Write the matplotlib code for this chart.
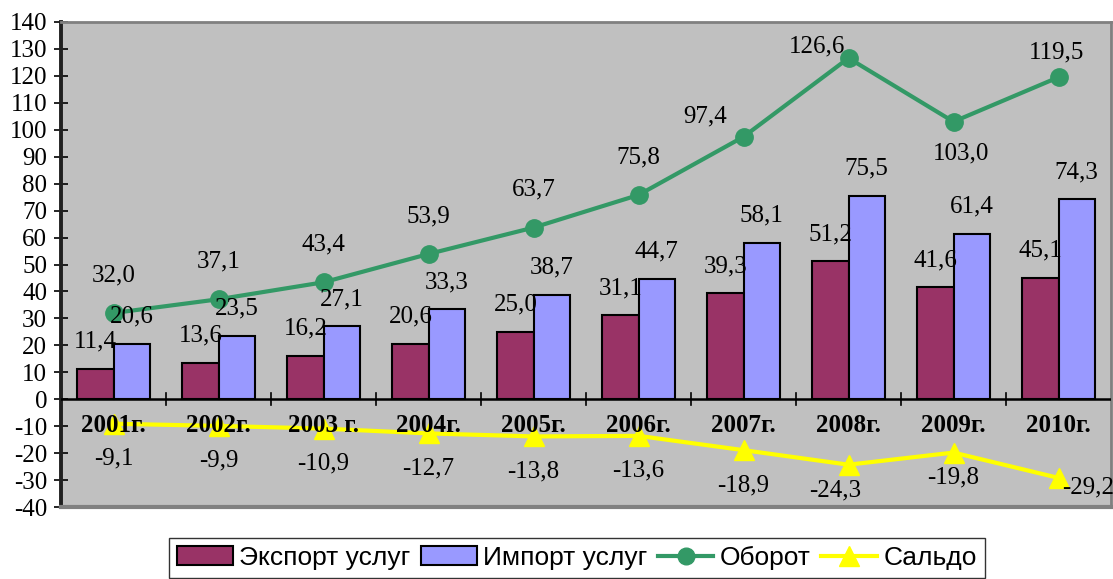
import numpy as np
import matplotlib.pyplot as plt
from matplotlib.patches import Patch
from matplotlib.lines import Line2D

plt.rcParams["axes.unicode_minus"] = False

years = ["2001г.", "2002г.", "2003 г.", "2004г.", "2005г.",
         "2006г.", "2007г.", "2008г.", "2009г.", "2010г."]
export = [11.4, 13.6, 16.2, 20.6, 25.0, 31.1, 39.3, 51.2, 41.6, 45.1]
imports = [20.6, 23.5, 27.1, 33.3, 38.7, 44.7, 58.1, 75.5, 61.4, 74.3]
turnover = [32.0, 37.1, 43.4, 53.9, 63.7, 75.8, 97.4, 126.6, 103.0, 119.5]
balance = [-9.1, -9.9, -10.9, -12.7, -13.8, -13.6, -18.9, -24.3, -19.8, -29.2]

c_export = "#993366"
c_import = "#9999ff"
c_turn = "#339966"
c_bal = "#ffff00"

serif = "Liberation Serif"
fs = 18


def fmt(v):
    return f"{v:.1f}".replace(".", ",")


fig = plt.figure(figsize=(11.13, 5.79), dpi=100)
ax = fig.add_axes([61 / 1113, 1 - 507 / 579, 1050 / 1113, 485 / 579])
ax.set_facecolor("#c0c0c0")

x = np.arange(len(years))
w = 0.343
ax.bar(x - w / 2, export, w, color=c_export, edgecolor="black", linewidth=1.5, zorder=2)
ax.bar(x + w / 2, imports, w, color=c_import, edgecolor="black", linewidth=1.5, zorder=2)
ax.plot(x, turnover, color=c_turn, lw=3, marker="o", ms=12.5, zorder=4)
ax.plot(x, balance, color=c_bal, lw=3, marker="^", ms=15, zorder=4)

ax.set_xlim(-0.5, len(years) - 0.5)
ax.set_ylim(-40, 140)
ax.set_yticks(np.arange(-40, 141, 10))
ax.tick_params(axis="y", direction="inout", length=10, width=1.2, labelsize=18, pad=5)
for lab in ax.get_yticklabels():
    lab.set_fontfamily(serif)

# x axis sits on the zero line, ticks between the years
ax.spines["bottom"].set_visible(False)
ax.axhline(0, color="black", lw=1.8, zorder=3)
ax.set_xticks([])
for b in np.arange(0.5, len(years) - 1, 1.0):
    ax.plot([b, b], [-2, 2.2], color="black", lw=1.2, zorder=3)

for side in ["top", "right"]:
    ax.spines[side].set_color("#808080")
    ax.spines[side].set_linewidth(2)
ax.spines["left"].set_color("#202020")
ax.spines["left"].set_linewidth(2.8)
ax.plot([0, 1], [0, 0], transform=ax.transAxes, color="#808080", lw=3, clip_on=False, zorder=5)

for i, name in enumerate(years):
    ax.annotate(name, (i, 0), xytext=(0, -26), textcoords="offset pixels",
                ha="center", va="center", fontsize=fs, fontweight="bold",
                family=serif, zorder=6)

# data labels (offsets in pixels)
for i, v in enumerate(export):
    ax.annotate(fmt(v), (i - w / 2, v), xytext=(0, 27), textcoords="offset pixels",
                ha="center", va="center", fontsize=fs, family=serif, zorder=6)
for i, v in enumerate(imports):
    ax.annotate(fmt(v), (i + w / 2, v), xytext=(0, 27), textcoords="offset pixels",
                ha="center", va="center", fontsize=fs, family=serif, zorder=6)

turn_off = [(0, 38)] * len(turnover)
turn_off[6] = (-38, 20)
turn_off[7] = (-31, 12)
turn_off[8] = (8, -32)
turn_off[9] = (-2, 25)
for i, v in enumerate(turnover):
    ax.annotate(fmt(v), (i, v), xytext=turn_off[i], textcoords="offset pixels",
                ha="center", va="center", fontsize=fs, family=serif, zorder=6)

bal_off = [(0, -35)] * len(balance)
bal_off[7] = (-13, -26)
bal_off[8] = (0, -25)
bal_off[9] = (30, -10)
for i, v in enumerate(balance):
    ax.annotate(fmt(v), (i, v), xytext=bal_off[i], textcoords="offset pixels",
                ha="center", va="center", fontsize=fs, family=serif, zorder=6)

handles = [
    Patch(facecolor=c_export, edgecolor="black", linewidth=1.5, label="Экспорт услуг"),
    Patch(facecolor=c_import, edgecolor="black", linewidth=1.5, label="Импорт услуг"),
    Line2D([], [], color=c_turn, lw=3, marker="o", ms=12, label="Оборот"),
    Line2D([], [], color=c_bal, lw=3, marker="^", ms=15, label="Сальдо"),
]
leg = fig.legend(handles=handles, loc="upper center", bbox_to_anchor=(577 / 1113, 1 - 538 / 579),
                 ncol=4, prop={"family": "Liberation Sans", "size": 19}, frameon=True,
                 fancybox=False, edgecolor="black", handlelength=2.1, handletextpad=0.25,
                 columnspacing=0.4, borderpad=0.3, borderaxespad=0)
leg.get_frame().set_linewidth(1.0)

fig.savefig("out.png", dpi=100, facecolor="white")
